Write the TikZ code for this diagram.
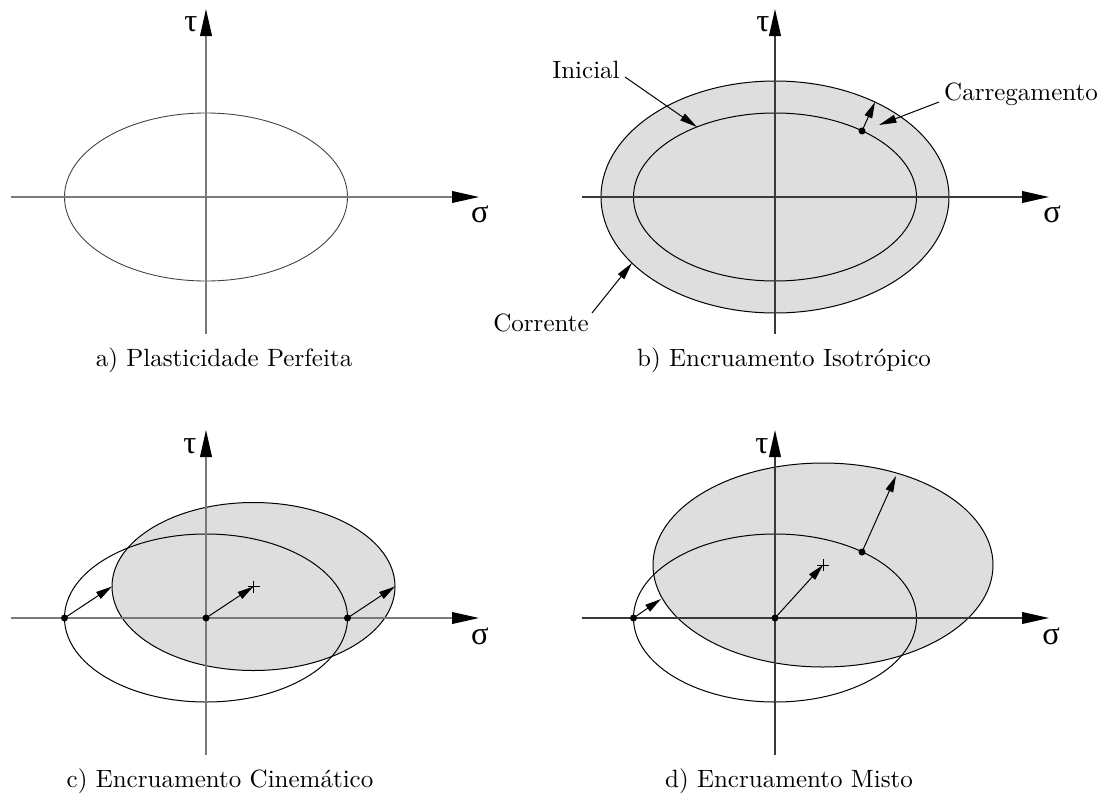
\documentclass[tikz,border=0pt]{standalone}
\usepackage{fontspec}
\newfontfamily\grk{Liberation Serif}
\usetikzlibrary{arrows.meta}
\definecolor{axgray}{HTML}{7A7A7A}
\definecolor{axdark}{HTML}{3A3A3A}
\definecolor{fillgray}{HTML}{DEDEDE}
\begin{document}
\begin{tikzpicture}[x=0.4pt,y=-0.4pt,
  axbase/.style={line width=0.55pt,-{Triangle[length=10.8pt,width=4.7pt,color=black]}},
  axlight/.style={axbase,draw=axgray},
  axstrong/.style={axbase,draw=axdark},
  ell/.style={draw=black,line width=0.4pt},
  ellthin/.style={draw=black!75,line width=0.35pt},
  ellfill/.style={ell,fill=fillgray},
  vec/.style={line width=0.4pt,-{Triangle[length=6.5pt,width=3.2pt]}},
  lbl/.style={draw=black,line width=0.4pt,-{Triangle[length=7pt,width=3.2pt]}},
  greek/.style={inner sep=0pt,font=\grk\fontsize{13}{15}\selectfont},
  captext/.style={inner sep=0pt,font=\fontsize{10}{12}\selectfont},
  dotmark/.style={circle,fill=black,inner sep=0pt,minimum size=2.8pt},
  plusmark/.style={line width=0.4pt}
]
\useasboundingbox (0,0) rectangle (1112,800);

% ---------- panel a ----------
\coordinate (aL) at (11,197);
\coordinate (aR) at (479,197);
\coordinate (aB) at (206,334);
\coordinate (aT) at (206,9);
\draw[ellthin] (206,197) ellipse [x radius=141.5, y radius=84];
\draw[axlight] (aL) -- (aR);
\draw[axlight] (aB) -- (aT);
\node[greek] (tauA) at (191,24) {τ};
\node[greek] (sigA) at (480,214) {σ};
\node[captext] (capA) at (224,360) {a) Plasticidade Perfeita};

% ---------- panel b ----------
\draw[ellfill] (775,197) ellipse [x radius=174, y radius=116];
\draw[ellfill] (775,197) ellipse [x radius=141.5, y radius=84];
\coordinate (bL) at (582,197);
\coordinate (bR) at (1049,197);
\coordinate (bB) at (775,334);
\coordinate (bT) at (775,9);
\draw[axstrong] (bL) -- (bR);
\draw[axstrong] (bB) -- (bT);
\node[greek] (tauB) at (763,24) {τ};
\node[greek] (sigB) at (1052,214) {σ};
\node[dotmark] (bP) at (862,131) {};
\coordinate (bPe) at (875,102);
\draw[vec] (bP.center) -- (bPe);
\node[captext] (ini) at (586,70) {Inicial};
\coordinate (iniS) at (625,77);
\coordinate (iniE) at (697,127);
\draw[lbl] (iniS) -- (iniE);
\node[captext] (car) at (1021,94) {Carregamento};
\coordinate (carS) at (939,102);
\coordinate (carE) at (879,125);
\draw[lbl] (carS) -- (carE);
\node[captext] (cor) at (541,323) {Corrente};
\coordinate (corS) at (592,313);
\coordinate (corE) at (632,263);
\draw[lbl] (corS) -- (corE);
\node[captext] (capB) at (784,360) {b) Encruamento Isotrópico};

% ---------- panel c ----------
\draw[ellfill] (253.5,586.5) ellipse [x radius=141.5, y radius=84];
\draw[ell] (206,618) ellipse [x radius=141.5, y radius=84];
\coordinate (cL) at (11,618);
\coordinate (cR) at (479,618);
\coordinate (cB) at (206,755);
\coordinate (cT) at (206,430);
\draw[axlight] (cL) -- (cR);
\draw[axlight] (cB) -- (cT);
\node[greek] (tauC) at (190,446) {τ};
\node[greek] (sigC) at (480,636) {σ};
\coordinate (c1e) at (112,586.5);
\coordinate (c2e) at (253.5,586.5);
\coordinate (c3e) at (395,586.5);
\node[dotmark] (c1) at (64.5,618) {};
\node[dotmark] (c2) at (206,618) {};
\node[dotmark] (c3) at (347.5,618) {};
\draw[vec] (c1.center) -- (c1e);
\draw[vec] (c2.center) -- (c2e);
\draw[vec] (c3.center) -- (c3e);
\draw[plusmark] (247.5,586.5) -- (259.5,586.5) (253.5,580.5) -- (253.5,592.5);
\node[captext] (capC) at (220,781) {c) Encruamento Cinemático};

% ---------- panel d ----------
\draw[ellfill] (823,565) ellipse [x radius=170, y radius=102];
\draw[ell] (775,618) ellipse [x radius=141.5, y radius=84];
\coordinate (dL) at (582,618);
\coordinate (dR) at (1049,618);
\coordinate (dB) at (775,755);
\coordinate (dT) at (775,430);
\draw[axstrong] (dL) -- (dR);
\draw[axstrong] (dB) -- (dT);
\node[greek] (tauD) at (762,446) {τ};
\node[greek] (sigD) at (1051,636) {σ};
\coordinate (d1e) at (661,599);
\coordinate (d2e) at (823,565);
\coordinate (d3e) at (896,476);
\node[dotmark] (d1) at (633.5,618) {};
\node[dotmark] (d2) at (775,618) {};
\node[dotmark] (d3) at (862,552) {};
\draw[vec] (d1.center) -- (d1e);
\draw[vec] (d2.center) -- (d2e);
\draw[vec] (d3.center) -- (d3e);
\draw[plusmark] (817,565) -- (829,565) (823,559) -- (823,571);
\node[captext] (capD) at (789,781) {d) Encruamento Misto};
\end{tikzpicture}
\end{document}
